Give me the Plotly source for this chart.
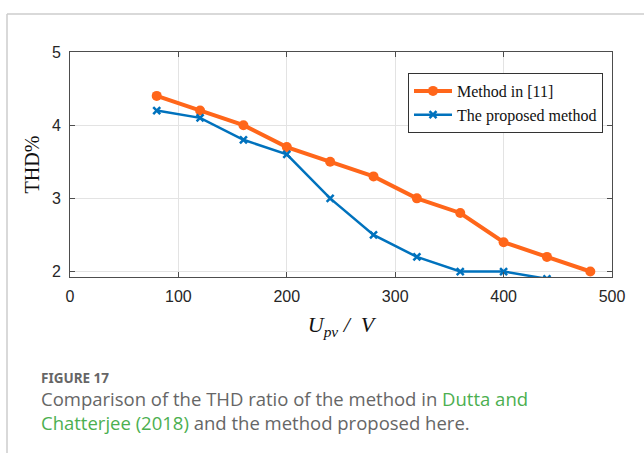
import plotly.graph_objects as go

x_ref = [80, 120, 160, 200, 240, 280, 320, 360, 400, 440, 480]
y_ref = [4.4, 4.2, 4.0, 3.7, 3.5, 3.3, 3.0, 2.8, 2.4, 2.2, 2.0]
x_prop = [80, 120, 160, 200, 240, 280, 320, 360, 400, 440]
y_prop = [4.2, 4.1, 3.8, 3.6, 3.0, 2.5, 2.2, 2.0, 2.0, 1.9]
x_ticks = [0, 100, 200, 300, 400, 500]
y_ticks = [2, 3, 4, 5]
names = ["Method in [11]", "The proposed method"]

ORANGE = "#FF661A"
BLUE = "#0072BD"
AX = "#4d4d4d"

fig = go.Figure()
fig.add_trace(go.Scatter(x=x_ref, y=y_ref, name=names[0], mode="lines+markers",
                         line=dict(color=ORANGE, width=4),
                         marker=dict(symbol="circle", size=10, color=ORANGE)))
fig.add_trace(go.Scatter(x=x_prop, y=y_prop, name=names[1], mode="lines+markers",
                         line=dict(color=BLUE, width=2.5),
                         marker=dict(symbol="x-thin", size=7, color=BLUE,
                                     line=dict(color=BLUE, width=2.5))))

L, R, T, B = 70, 32, 52, 176
W, H = 644, 453
pw, ph = W - L - R, H - T - B

def px(x):
    return (x - L) / pw

def py(y):
    return (H - B - y) / ph

fig.update_layout(
    width=W, height=H,
    margin=dict(l=L, r=R, t=T, b=B),
    paper_bgcolor="white", plot_bgcolor="white",
    showlegend=True,
    legend=dict(x=px(408), y=py(73), xanchor="left", yanchor="top",
                bgcolor="white", bordercolor="#333333", borderwidth=1,
                font=dict(family="Liberation Serif", size=16, color="#111111"),
                tracegroupgap=0, itemwidth=38),
    xaxis=dict(range=[0, 500], tickvals=x_ticks, showgrid=True, gridcolor="#e3e3e3",
               showline=True, linecolor=AX, linewidth=1, mirror="ticks",
               ticks="inside", ticklen=5, tickcolor=AX, zeroline=False,
               ticklabelstandoff=5,
               tickfont=dict(family="Liberation Sans", size=16, color="#262626"),
               title=dict(text="<i>U</i><sub><i>pv</i></sub><i> /  V</i>",
                          font=dict(family="Liberation Serif", size=22, color="#111111"),
                          standoff=12)),
    yaxis=dict(range=[1.925, 5], tickvals=y_ticks, showgrid=True, gridcolor="#e3e3e3",
               showline=True, linecolor=AX, linewidth=1, mirror="ticks",
               ticks="inside", ticklen=5, tickcolor=AX, zeroline=False,
               ticklabelstandoff=5,
               tickfont=dict(family="Liberation Sans", size=16, color="#262626"),
               title=dict(text="THD%",
                          font=dict(family="Liberation Serif", size=20, color="#111111"),
                          standoff=6)),
)

# page frame lines
fig.add_shape(type="line", xref="paper", yref="paper", x0=px(7), x1=px(644), y0=py(14), y1=py(14),
              line=dict(color="#cccccc", width=1.5))
fig.add_shape(type="line", xref="paper", yref="paper", x0=px(7), x1=px(7), y0=py(14), y1=py(453),
              line=dict(color="#cccccc", width=1.5))

GREEN = "#4caf50"
GRAY = "#666666"
fig.add_annotation(xref="paper", yref="paper", x=px(39), y=py(378), xanchor="left", yanchor="middle",
                   text="<b>FIGURE 17</b>", showarrow=False, align="left",
                   font=dict(family="Noto Sans", size=13.5, color="#666666"))
fig.add_annotation(xref="paper", yref="paper", x=px(39), y=py(398), xanchor="left", yanchor="middle",
                   text=f"Comparison of the THD ratio of the method in <span style='color:{GREEN}'>Dutta and</span>",
                   showarrow=False, align="left",
                   font=dict(family="Open Sans", size=18.5, color=GRAY))
fig.add_annotation(xref="paper", yref="paper", x=px(39), y=py(422), xanchor="left", yanchor="middle",
                   text=f"<span style='color:{GREEN}'>Chatterjee (2018)</span> and the method proposed here.",
                   showarrow=False, align="left",
                   font=dict(family="Open Sans", size=18.5, color=GRAY))

fig.write_html("out.html")
